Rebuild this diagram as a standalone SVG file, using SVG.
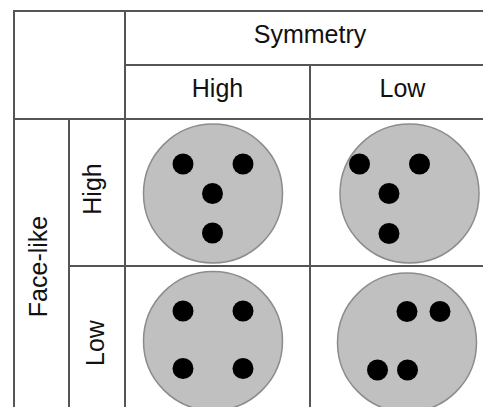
<svg xmlns="http://www.w3.org/2000/svg" width="483" height="407" viewBox="0 0 483 407">
  <style>
    .grid { stroke: #555; stroke-width: 2; fill: none; }
    .lbl { font-family: "Liberation Sans", Arial, sans-serif; font-size: 25px; fill: #111; text-anchor: middle; }
    .face { fill: #c0c0c0; stroke: #8c8c8c; stroke-width: 1.5; }
    .dot { fill: #000; }
  </style>
  <rect width="483" height="407" fill="#fff"/>

  <!-- table rules -->
  <g id="grid" class="grid">
    <line x1="13" y1="11" x2="483" y2="11"/>
    <line x1="125" y1="65" x2="483" y2="65"/>
    <line x1="13" y1="119" x2="483" y2="119"/>
    <line x1="69" y1="266" x2="483" y2="266"/>
    <line x1="14" y1="10" x2="14" y2="407"/>
    <line x1="69" y1="119" x2="69" y2="407"/>
    <line x1="125" y1="10" x2="125" y2="407"/>
    <line x1="310" y1="65" x2="310" y2="407"/>
  </g>

  <!-- headers -->
  <g id="header-symmetry"><text class="lbl" x="310" y="43">Symmetry</text></g>
  <g id="header-sym-high"><text class="lbl" x="217.5" y="97">High</text></g>
  <g id="header-sym-low"><text class="lbl" x="402.5" y="97">Low</text></g>
  <g id="header-facelike"><text class="lbl" transform="translate(47 266.5) rotate(-90)">Face-like</text></g>
  <g id="header-face-high"><text class="lbl" transform="translate(101 189) rotate(-90)">High</text></g>
  <g id="header-face-low"><text class="lbl" transform="translate(103.5 343) rotate(-90)">Low</text></g>

  <!-- face-like high, symmetry high -->
  <g id="cell-high-high">
    <circle class="face" cx="213" cy="193.5" r="69.5"/>
    <circle class="dot" cx="183" cy="164" r="10.5"/>
    <circle class="dot" cx="243" cy="164" r="10.5"/>
    <circle class="dot" cx="212.5" cy="193.5" r="10.5"/>
    <circle class="dot" cx="212.5" cy="233" r="10.5"/>
  </g>

  <!-- face-like high, symmetry low -->
  <g id="cell-high-low">
    <circle class="face" cx="409.5" cy="193.5" r="69.5"/>
    <circle class="dot" cx="359.5" cy="164" r="10.5"/>
    <circle class="dot" cx="419.5" cy="164" r="10.5"/>
    <circle class="dot" cx="389" cy="193.5" r="10.5"/>
    <circle class="dot" cx="389" cy="233.5" r="10.5"/>
  </g>

  <!-- face-like low, symmetry high -->
  <g id="cell-low-high">
    <circle class="face" cx="213" cy="341" r="69.5"/>
    <circle class="dot" cx="183" cy="311" r="10.5"/>
    <circle class="dot" cx="243" cy="311" r="10.5"/>
    <circle class="dot" cx="183" cy="368.5" r="10.5"/>
    <circle class="dot" cx="243" cy="368.5" r="10.5"/>
  </g>

  <!-- face-like low, symmetry low -->
  <g id="cell-low-low">
    <circle class="face" cx="407" cy="342.5" r="69.5"/>
    <circle class="dot" cx="407" cy="311.5" r="10.5"/>
    <circle class="dot" cx="440" cy="311.5" r="10.5"/>
    <circle class="dot" cx="377.5" cy="370" r="10.5"/>
    <circle class="dot" cx="407.5" cy="370" r="10.5"/>
  </g>
</svg>
